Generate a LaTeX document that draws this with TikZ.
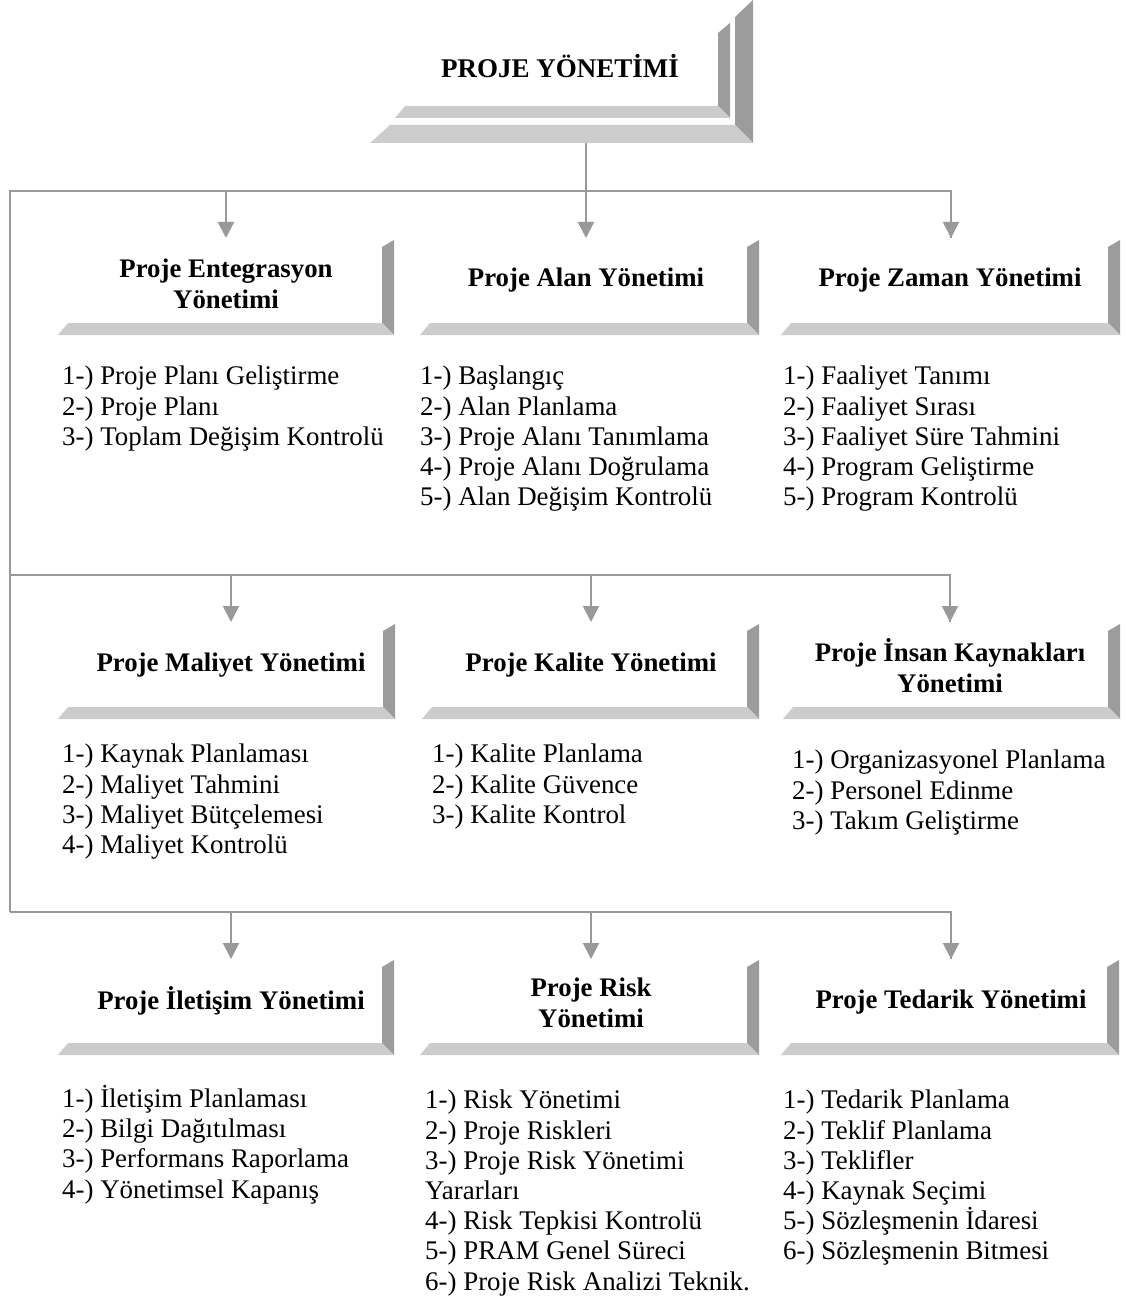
\documentclass[tikz,border=0pt]{standalone}
\usepackage{fontspec}
\setmainfont{Liberation Serif}
\usetikzlibrary{arrows.meta}
\definecolor{bardark}{HTML}{9C9C9C}
\definecolor{barlight}{HTML}{CCCCCC}
\definecolor{linegray}{HTML}{999999}
% #1 xl, #2 xr, #3 ytop, #4 ybot, #5 thickness, #6 top slant, #7 left bevel
\newcommand\bevbox[7]{%
  \fill[bardark] (#2-#5,#3+#6) -- (#2,#3) -- (#2,#4) -- (#2-#5,#4-#5) -- cycle;
  \fill[barlight] (#1+#7,#4-#5) -- (#2-#5,#4-#5) -- (#2,#4) -- (#1,#4) -- cycle;
}
\tikzset{
  conn/.style={draw=linegray, line width=2pt},
  arr/.style={conn, -{Triangle[width=16pt,length=16pt]}, fill=linegray},
  head/.style={font=\fontsize{26.8}{31}\selectfont\bfseries, align=center, inner sep=0pt},
  title/.style={font=\fontsize{27}{31}\selectfont\bfseries, inner sep=0pt},
  listtext/.style={font=\fontsize{26.9}{30.2}\selectfont, align=left, anchor=north west, inner sep=0pt},
}
\begin{document}
\begin{tikzpicture}[x=1pt,y=-1pt]
\useasboundingbox (0,0) rectangle (1125,1297);
% top title box
\bevbox{370}{753}{0}{143}{18}{17}{20}
\bevbox{395}{730}{23}{118}{12}{10}{10}
\node[title] (title) at (560,66) {PROJE YÖNETİMİ};
% row boxes
\bevbox{58}{394}{240}{335}{12}{7}{10}
\bevbox{420}{759}{240}{335}{12}{7}{10}
\bevbox{781}{1120}{240}{335}{12}{7}{10}
\bevbox{58}{395}{624}{719}{12}{7}{10}
\bevbox{422}{759}{624}{719}{12}{7}{10}
\bevbox{783}{1120}{624}{719}{12}{7}{10}
\bevbox{58}{394}{960}{1055}{12}{7}{10}
\bevbox{420}{759}{960}{1055}{12}{7}{10}
\bevbox{781}{1119}{960}{1055}{12}{7}{10}
% headings
\node[head] (h11) at (226,284) {Proje Entegrasyon\\Yönetimi};
\node[head] (h12) at (586,280) {Proje Alan Yönetimi};
\node[head] (h13) at (950,280) {Proje Zaman Yönetimi};
\node[head] (h21) at (231,665) {Proje Maliyet Yönetimi};
\node[head] (h22) at (591,665) {Proje Kalite Yönetimi};
\node[head] (h23) at (950,666) {Proje İnsan Kaynakları\\Yönetimi};
\node[head] (h31) at (231,1001) {Proje İletişim Yönetimi};
\node[head] (h32) at (591,1003) {Proje Risk\\Yönetimi};
\node[head] (h33) at (951,1002) {Proje Tedarik Yönetimi};
% lists
\node[listtext] (l11) at (62,366) {1-) Proje Planı Geliştirme\\2-) Proje Planı\\3-) Toplam Değişim Kontrolü};
\node[listtext] (l12) at (420,366) {1-) Başlangıç\\2-) Alan Planlama\\3-) Proje Alanı Tanımlama\\4-) Proje Alanı Doğrulama\\5-) Alan Değişim Kontrolü};
\node[listtext] (l13) at (783,366) {1-) Faaliyet Tanımı\\2-) Faaliyet Sırası\\3-) Faaliyet Süre Tahmini\\4-) Program Geliştirme\\5-) Program Kontrolü};
\node[listtext] (l21) at (62,744) {1-) Kaynak Planlaması\\2-) Maliyet Tahmini\\3-) Maliyet Bütçelemesi\\4-) Maliyet Kontrolü};
\node[listtext] (l22) at (432,744) {1-) Kalite Planlama\\2-) Kalite Güvence\\3-) Kalite Kontrol};
\node[listtext] (l23) at (792,750) {1-) Organizasyonel Planlama\\2-) Personel Edinme\\3-) Takım Geliştirme};
\node[listtext] (l31) at (62,1085) {1-) İletişim Planlaması\\2-) Bilgi Dağıtılması\\3-) Performans Raporlama\\4-) Yönetimsel Kapanış};
\node[listtext] (l32) at (425,1090) {1-) Risk Yönetimi\\2-) Proje Riskleri\\3-) Proje Risk Yönetimi\\Yararları\\4-) Risk Tepkisi Kontrolü\\5-) PRAM Genel Süreci\\6-) Proje Risk Analizi Teknik.};
\node[listtext] (l33) at (783,1090) {1-) Tedarik Planlama\\2-) Teklif Planlama\\3-) Teklifler\\4-) Kaynak Seçimi\\5-) Sözleşmenin İdaresi\\6-) Sözleşmenin Bitmesi};
% connector coordinates
\coordinate (tb) at (586,143);
\coordinate (r1) at (586,191);
\coordinate (r1L) at (10,191);
\coordinate (r1R) at (951,191);
\coordinate (t1) at (0,238);
\coordinate (r2L) at (10,575);
\coordinate (r2R) at (950,575);
\coordinate (t2) at (0,622);
\coordinate (r3L) at (10,912);
\coordinate (r3R) at (951,912);
\coordinate (t3) at (0,959);
% connectors
\draw[conn] (tb) -- (r1);
\draw[conn] (r3L) -- (r1L) -- (r1R) -- (r1R |- t1);
\draw[conn] (r2L) -- (r2R) -- (r2R |- t2);
\draw[conn] (r3L) -- (r3R) -- (r3R |- t3);
\draw[arr] (h11 |- r1L) -- (h11 |- t1);
\draw[arr] (h12 |- r1L) -- (h12 |- t1);
\draw[arr] (r1R) -- (r1R |- t1);
\draw[arr] (h21 |- r2L) -- (h21 |- t2);
\draw[arr] (h22 |- r2L) -- (h22 |- t2);
\draw[arr] (r2R) -- (r2R |- t2);
\draw[arr] (h31 |- r3L) -- (h31 |- t3);
\draw[arr] (h32 |- r3L) -- (h32 |- t3);
\draw[arr] (r3R) -- (r3R |- t3);
\end{tikzpicture}
\end{document}
